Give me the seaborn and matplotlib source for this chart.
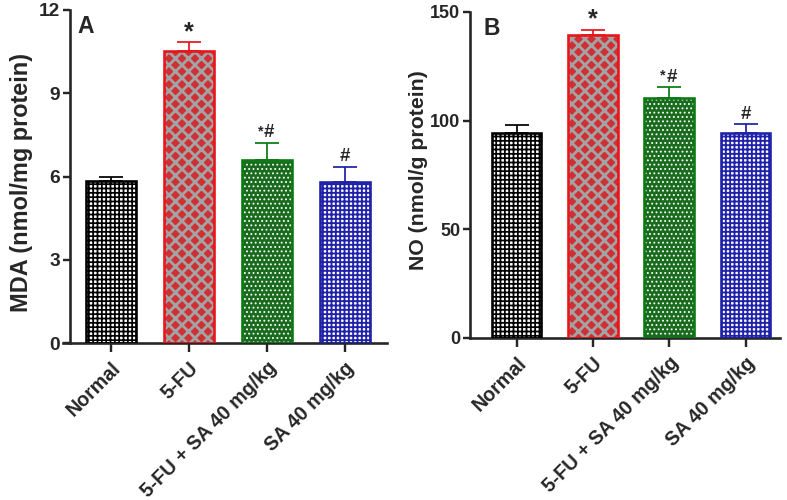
import matplotlib
matplotlib.use('Agg')
import matplotlib.pyplot as plt
import seaborn as sns
import numpy as np

groups = ['Normal', '5-FU', '5-FU + SA 40 mg/kg', 'SA 40 mg/kg']

mda_mean = [5.82, 10.53, 6.60, 5.79]
mda_err = [0.17, 0.30, 0.62, 0.57]
mda_marks = ['', '*', '*#', '#']

no_mean = [94.2, 139.6, 110.6, 94.4]
no_err = [4.0, 2.2, 4.7, 4.0]
no_marks = ['', '*', '*#', '#']

face_cols = ['white', '#e8161c', '#0b7a12', 'white']
hatch_cols = ['black', '#a3a3a3', 'white', '#1f22a8']
edge_cols = ['black', '#e8161c', '#0b7a12', '#1f22a8']
hatches = ['+++', 'xx', '...', '+++']
hatch_lws = [1.6, 2.6, 1.0, 1.7]

sns.set_style('ticks')
plt.rcParams['font.family'] = ['Liberation Sans', 'DejaVu Sans']
plt.rcParams['font.weight'] = 'bold'

DPI = 78.7
fig = plt.figure(figsize=(787 / DPI, 500 / DPI), dpi=DPI)
ax_a = fig.add_axes([63 / 787, 157 / 500, 324 / 787, 333 / 500])
ax_b = fig.add_axes([470 / 787, 162 / 500, 310 / 787, 326 / 500])


def draw_panel(ax, means, errs, marks, ylabel, ymax, step, letter, lab_size, tick_size):
    sns.barplot(x=groups, y=means, hue=groups, palette=face_cols, legend=False,
                width=0.65, ax=ax, zorder=2)
    for i, p in enumerate(ax.patches):
        p.set_hatch(hatches[i])
        p.set_edgecolor(hatch_cols[i])
        p.set_linewidth(0)
        if hasattr(p, 'set_hatch_linewidth'):
            p.set_hatch_linewidth(hatch_lws[i])
    sns.barplot(x=groups, y=means, hue=groups, palette=edge_cols, legend=False,
                width=0.65, fill=False, linewidth=2.4, ax=ax, zorder=3)
    for i in range(len(groups)):
        ax.errorbar(i, means[i], yerr=[[0], [errs[i]]], fmt='none', ecolor=edge_cols[i],
                    elinewidth=1.6, capsize=11, capthick=1.6, zorder=1)
        top = means[i] + errs[i]
        if marks[i] == '*':
            ax.annotate('*', xy=(i, top), xytext=(0, 3), textcoords='offset points',
                        ha='center', va='baseline', fontsize=23, fontweight='bold')
        elif marks[i] == '#':
            ax.annotate('#', xy=(i, top), xytext=(0, 5), textcoords='offset points',
                        ha='center', va='baseline', fontsize=17, fontweight='bold')
        elif marks[i] == '*#':
            ax.annotate('#', xy=(i, top), xytext=(2, 5), textcoords='offset points',
                        ha='center', va='baseline', fontsize=17, fontweight='bold')
            ax.annotate('*', xy=(i, top), xytext=(-6, 7), textcoords='offset points',
                        ha='center', va='baseline', fontsize=13, fontweight='bold')

    ax.set_ylim(0, ymax)
    ax.set_yticks(np.arange(0, ymax + 0.1, step))
    ax.set_ylabel(ylabel, fontsize=lab_size, fontweight='bold')
    ax.set_xlabel('')
    ax.tick_params(axis='y', width=2.2, length=6, labelsize=tick_size, pad=3)
    ax.tick_params(axis='x', width=2.2, length=8, labelsize=18, pad=6)
    ax.set_xticks(range(len(groups)))
    ax.set_xticklabels(groups, rotation=45, ha='right', rotation_mode='anchor',
                       fontsize=18, fontweight='bold')
    for lab in ax.get_yticklabels():
        lab.set_fontweight('bold')
    sns.despine(ax=ax)
    ax.spines['left'].set_linewidth(2.4)
    ax.spines['bottom'].set_linewidth(2.4)
    ax.text(0.045, 0.985, letter, transform=ax.transAxes, fontsize=21,
            fontweight='bold', ha='left', va='top')


draw_panel(ax_a, mda_mean, mda_err, mda_marks, 'MDA (nmol/mg protein)', 12, 3, 'A', 21.5, 17.5)
ax_a.set_xlim(-0.615, 3.54)
ax_a.spines['left'].set_position(('axes', 0.022))
ax_a.yaxis.set_label_coords(-0.093, 0.483)

draw_panel(ax_b, no_mean, no_err, no_marks, 'NO (nmol/g protein)', 150, 50, 'B', 19.5, 16.5)
ax_b.set_xlim(-0.61, 3.45)
ax_b.yaxis.set_label_coords(-0.135, 0.515)

fig.savefig('out.png', dpi=DPI, facecolor='white')
